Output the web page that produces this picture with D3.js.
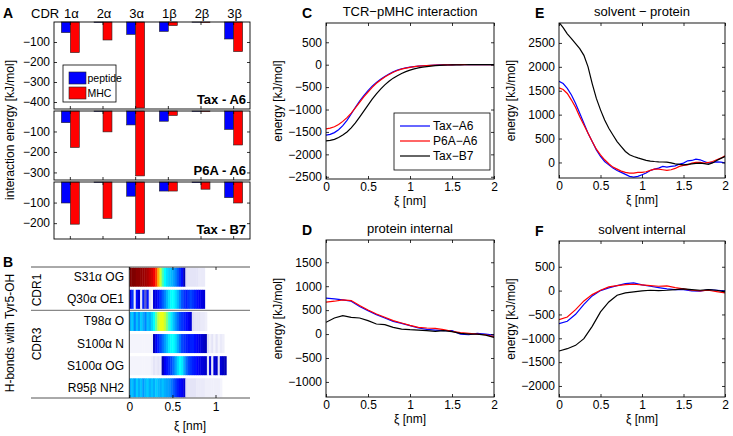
<!DOCTYPE html>
<html>
<head>
<meta charset="utf-8">
<script src="https://cdnjs.cloudflare.com/ajax/libs/d3/7.8.5/d3.min.js"></script>
<style>
body { margin: 0; background: #fff; }
svg { font-family: "Liberation Sans", Arial, Helvetica, sans-serif; }
</style>
</head>
<body>
<div id="fig"></div>
<script>
// ---- panel A: interaction energy per CDR loop (kJ/mol)
var cdrGroups = ["1α", "2α", "3α", "1β", "2β", "3β"];
var taxA6Peptide = [-53, -2, -62, -47, -1, -85];
var taxA6MHC = [-153, -90, -430, -18, -3, -148];
var p6aA6Peptide = [-57, -2, -68, -50, -2, -90];
var p6aA6MHC = [-178, -102, -317, -22, -3, -166];
var taxB7Peptide = [-102, -2, -69, -44, -3, -76];
var taxB7MHC = [-205, -177, -250, -44, -35, -102];

// ---- panel B: H-bond occupancy along xi
var hbSites = ["S31α OG", "Q30α OE1", "T98α O", "S100α N", "S100α OG", "R95β NH2"];
var hbBins = [0, 0.025, 0.05, 0.075, 0.1, 0.125, 0.15, 0.175, 0.2, 0.225, 0.25, 0.275, 0.3, 0.325, 0.35, 0.375, 0.4, 0.425, 0.45, 0.475, 0.5, 0.525, 0.55, 0.575, 0.6, 0.625, 0.65, 0.675, 0.7, 0.725, 0.75, 0.775, 0.8, 0.825, 0.85, 0.875, 0.9, 0.925, 0.95, 0.975, 1, 1.025, 1.05, 1.075, 1.1, 1.125];
var hbS31 = [1, 1, 1, 0.98, 0.98, 0.97, 0.96, 0.95, 0.93, 0.9, 0.87, 0.82, 0.76, 0.68, 0.6, 0.54, 0.5, 0.47, 0.45, 0.43, 0.41, 0.38, 0.34, 0.3, 0.26, 0.16, 0.06, 0.05, 0.05, 0.05, 0.05, 0.05, 0.04, 0.04, 0.04, 0, 0, 0, 0, 0, 0, 0, 0, 0, 0, 0];
var hbQ30 = [0.22, 0.3, 0.04, 0.26, 0.2, 0.05, 0.28, 0.12, 0.27, 0.06, 0.03, 0.2, 0.22, 0.26, 0.3, 0.34, 0.38, 0.43, 0.47, 0.5, 0.5, 0.47, 0.43, 0.38, 0.33, 0.3, 0.28, 0.3, 0.32, 0.3, 0.28, 0.26, 0.24, 0.22, 0.2, 0, 0, 0, 0, 0, 0, 0, 0, 0, 0, 0];
var hbT98 = [0.42, 0.45, 0.38, 0.44, 0.4, 0.45, 0.42, 0.38, 0.44, 0.42, 0.46, 0.5, 0.55, 0.6, 0.62, 0.62, 0.6, 0.56, 0.52, 0.48, 0.44, 0.4, 0.36, 0.32, 0.3, 0.28, 0.26, 0.24, 0.2, 0.06, 0.05, 0.05, 0.05, 0.04, 0.04, 0.03, 0, 0, 0, 0, 0, 0, 0, 0, 0, 0];
var hbS100N = [0.02, 0.02, 0.02, 0.02, 0.02, 0.02, 0.02, 0.02, 0.02, 0.02, 0.03, 0.16, 0.24, 0.28, 0.32, 0.36, 0.4, 0.44, 0.48, 0.5, 0.5, 0.47, 0.42, 0.37, 0.32, 0.3, 0.28, 0.27, 0.28, 0.28, 0.26, 0.24, 0.22, 0.2, 0.18, 0.16, 0.06, 0.03, 0.05, 0.02, 0.05, 0.02, 0.04, 0.03, 0, 0];
var hbS100OG = [0.02, 0.02, 0.02, 0.02, 0.02, 0.02, 0.02, 0.02, 0.02, 0.02, 0.03, 0.05, 0.04, 0.05, 0.04, 0.16, 0.24, 0.27, 0.29, 0.32, 0.36, 0.41, 0.46, 0.5, 0.48, 0.42, 0.36, 0.32, 0.3, 0.28, 0.27, 0.25, 0.23, 0.21, 0.2, 0.18, 0.05, 0.2, 0.04, 0.2, 0.18, 0.05, 0.2, 0.18, 0.16, 0];
var hbR95 = [0.42, 0.44, 0.4, 0.45, 0.42, 0.44, 0.4, 0.43, 0.45, 0.42, 0.44, 0.42, 0.45, 0.43, 0.42, 0.44, 0.42, 0.41, 0.4, 0.37, 0.34, 0.31, 0.28, 0.26, 0.24, 0.2, 0.06, 0.05, 0.05, 0.05, 0.05, 0.04, 0.04, 0.04, 0.04, 0.03, 0.03, 0.03, 0.03, 0.03, 0.03, 0.03, 0.02, 0, 0, 0];

// ---- panels C-F: energies along xi (kJ/mol)
var xiFine = [0, 0.05, 0.1, 0.15, 0.2, 0.25, 0.3, 0.35, 0.4, 0.45, 0.5, 0.55, 0.6, 0.65, 0.7, 0.75, 0.8, 0.85, 0.9, 0.95, 1, 1.05, 1.1, 1.15, 1.2, 1.25, 1.3, 1.35, 1.4, 1.45, 1.5, 1.55, 1.6, 1.65, 1.7, 1.75, 1.8, 1.85, 1.9, 1.95, 2];
var xiCoarse = [0, 0.1, 0.2, 0.3, 0.4, 0.5, 0.6, 0.7, 0.8, 0.9, 1, 1.1, 1.2, 1.3, 1.4, 1.5, 1.6, 1.7, 1.8, 1.9, 2];
var seriesNames = ["Tax−A6", "P6A−A6", "Tax−B7"];
var seriesColors = ["#0000ff", "#ff0000", "#000000"];

var tcrTaxA6 = [-1570, -1555, -1515, -1450, -1360, -1240, -1100, -950, -810, -690, -580, -480, -395, -325, -265, -210, -160, -120, -90, -70, -55, -42, -32, -24, -18, -13, -9, -6, -4, -3, -2, -1, 0, 0, 0, 0, 0, 0, 0, 0, 0];
var tcrP6AA6 = [-1430, -1415, -1385, -1335, -1265, -1180, -1080, -965, -840, -720, -610, -505, -415, -340, -275, -220, -170, -130, -98, -75, -58, -44, -33, -25, -19, -14, -10, -7, -5, -3, -2, -1, 0, 0, 0, 0, 0, 0, 0, 0, 0];
var tcrTaxB7 = [-1700, -1690, -1665, -1625, -1570, -1500, -1410, -1300, -1170, -1035, -900, -770, -650, -545, -450, -370, -300, -245, -195, -155, -122, -95, -73, -56, -42, -31, -23, -16, -11, -7, -5, -3, -2, -1, 0, 0, 0, 0, 0, 0, 0];

var solProtTaxA6 = [1700, 1650, 1550, 1410, 1235, 1030, 820, 610, 437, 264, 125, 20, -50, -118, -167, -208, -250, -290, -305, -290, -257, -222, -167, -139, -118, -83, -97, -83, -70, -35, -14, 35, 42, 70, 56, 20, -14, 0, 14, 7, -7];
var solProtP6AA6 = [1560, 1527, 1443, 1305, 1152, 958, 784, 610, 437, 278, 160, 56, -28, -97, -139, -180, -208, -222, -222, -208, -208, -194, -167, -139, -139, -153, -167, -153, -125, -83, -62, -50, -14, 0, 0, -14, 0, 20, 56, 90, 140];
var solProtTaxB7 = [2930, 2820, 2690, 2590, 2485, 2380, 2240, 2000, 1650, 1340, 1100, 890, 715, 575, 437, 333, 230, 160, 125, 95, 70, 45, 28, 20, 14, 10, 7, -10, -28, -40, -50, -40, -30, -20, -14, -25, -40, -10, 40, 85, 125];

var protIntTaxA6 = [750, 735, 714, 686, 574, 490, 406, 336, 266, 224, 175, 126, 98, 84, 70, 70, 0, -14, 14, 0, -21];
var protIntP6AA6 = [665, 686, 714, 700, 595, 504, 420, 350, 280, 231, 182, 140, 126, 119, 91, 56, 28, 14, 0, -14, -56];
var protIntTaxB7 = [245, 336, 385, 350, 336, 280, 210, 196, 140, 105, 91, 84, 70, 56, 70, 49, 14, 0, 0, -21, -70];

var solIntTaxA6 = [-693, -644, -497, -287, -112, 0, 56, 105, 147, 161, 119, 91, 63, 35, 21, 21, -7, -14, 21, 7, -7];
var solIntP6AA6 = [-609, -553, -399, -217, -84, 7, 77, 105, 126, 133, 119, 105, 91, 98, 63, 35, 7, -7, 7, -21, -49];
var solIntTaxB7 = [-1267, -1218, -1148, -1008, -749, -448, -238, -98, -49, -28, -7, 7, 0, 7, 21, 35, 21, 7, 21, 7, -28];

var W = 733, H = 436;
var svg = d3.select("#fig").append("svg")
    .attr("width", W)
    .attr("height", H);

var fmt = d3.format("~g");

function panelLetter(txt, x, y) {
    svg.append("text")
        .attr("x", x).attr("y", y)
        .attr("font-size", 14).attr("font-weight", "bold")
        .text(txt);
}

function styleAxis(g) {
    g.select(".domain").remove();
    g.selectAll(".tick line").attr("stroke", "#000").attr("stroke-width", 0.8);
    g.selectAll(".tick text").attr("font-size", 12).attr("fill", "#000")
        .attr("font-family", "Liberation Sans, Arial, sans-serif");
}

// ================= panel A =================
var xA = d3.scaleBand().domain(cdrGroups).range([54, 250]);
var xSub = d3.scaleBand().domain(["peptide", "MHC"]).range([0, xA.bandwidth()])
    .paddingInner(0).paddingOuter(0.82);

var subplots = [
    {label: "Tax - A6", pep: taxA6Peptide, mhc: taxA6MHC, top: 22, bottom: 109, ymin: -435, ticks: [-100, -200, -300, -400]},
    {label: "P6A - A6", pep: p6aA6Peptide, mhc: p6aA6MHC, top: 111, bottom: 180, ymin: -337, ticks: [-100, -200, -300]},
    {label: "Tax - B7", pep: taxB7Peptide, mhc: taxB7MHC, top: 182, bottom: 239, ymin: -277, ticks: [-100, -200]}
];

subplots.forEach(function(sp, k) {
    var y = d3.scaleLinear().domain([sp.ymin, 0]).range([sp.bottom, sp.top]);
    var g = svg.append("g");

    cdrGroups.forEach(function(c, i) {
        [["peptide", sp.pep[i], "#0000ff"], ["MHC", sp.mhc[i], "#ff0000"]].forEach(function(b) {
            g.append("rect")
                .attr("x", xA(c) + xSub(b[0]))
                .attr("y", y(0))
                .attr("width", xSub.bandwidth())
                .attr("height", y(b[1]) - y(0))
                .attr("fill", b[2])
                .attr("stroke", "#222")
                .attr("stroke-width", 0.6);
        });
    });

    var ax = g.append("g").attr("transform", "translate(54,0)")
        .call(d3.axisLeft(y).tickValues(sp.ticks).tickSize(-3).tickPadding(4).tickFormat(fmt));
    styleAxis(ax);
    var axr = g.append("g").attr("transform", "translate(250,0)")
        .call(d3.axisRight(y).tickValues(sp.ticks).tickSize(-3).tickFormat(""));
    styleAxis(axr);
    var xTicks = d3.axisBottom(xA).tickSize(-3).tickFormat("");
    var axb = g.append("g").attr("transform", "translate(0," + sp.bottom + ")").call(xTicks);
    styleAxis(axb);
    var axt = g.append("g").attr("transform", "translate(0," + sp.top + ")")
        .call(d3.axisTop(xA).tickSize(-3).tickFormat(""));
    styleAxis(axt);

    g.append("rect")
        .attr("x", 54).attr("y", sp.top)
        .attr("width", 196).attr("height", sp.bottom - sp.top)
        .attr("fill", "none").attr("stroke", "#000").attr("stroke-width", 0.9);

    g.append("text")
        .attr("x", 246).attr("y", sp.bottom - 5)
        .attr("text-anchor", "end")
        .attr("font-size", 13).attr("font-weight", "bold")
        .text(sp.label);
});

// header row of CDR names
svg.append("text").attr("x", 31).attr("y", 18).attr("font-size", 13).text("CDR");
svg.selectAll(".cdrlab").data(cdrGroups).enter().append("text")
    .attr("class", "cdrlab")
    .attr("x", function(d) { return xA(d) + xA.bandwidth() / 2 + 1; })
    .attr("y", 18)
    .attr("text-anchor", "middle")
    .attr("font-size", 13)
    .text(function(d) { return d; });

// legend of panel A
var legA = svg.append("g");
legA.append("rect").attr("x", 63).attr("y", 65).attr("width", 53).attr("height", 37)
    .attr("fill", "#fff").attr("stroke", "#000").attr("stroke-width", 0.8);
[["peptide", "#0000ff", 72], ["MHC", "#ff0000", 87]].forEach(function(l) {
    legA.append("rect").attr("x", 69).attr("y", l[2]).attr("width", 17).attr("height", 12)
        .attr("fill", l[1]).attr("stroke", "#222").attr("stroke-width", 0.6);
    legA.append("text").attr("x", 87.5).attr("y", l[2] + 10).attr("font-size", 10.5).text(l[0]);
});

svg.append("text")
    .attr("transform", "translate(14,130) rotate(-90)")
    .attr("text-anchor", "middle").attr("font-size", 12)
    .text("interaction energy [kJ/mol]");

panelLetter("A", 3, 18);

// ================= panel B =================
var xB = d3.scaleLinear().domain([0, 1.4]).range([129.3, 250]);
var yB = d3.scaleBand().domain(hbSites).range([267, 398]).paddingInner(0.14).paddingOuter(0.03);
var hbColor = d3.scaleLinear()
    .domain([0, 0.08, 0.15, 0.25, 0.5, 0.63, 0.8, 1])
    .range(["#ffffff", "#d4d4f2", "#0000b0", "#0000ff", "#00ffff", "#ffff00", "#ff0000", "#800000"])
    .clamp(true);
var hbRows = [hbS31, hbQ30, hbT98, hbS100N, hbS100OG, hbR95];
var binW = hbBins[1] - hbBins[0];

var heat = svg.append("g");
hbRows.forEach(function(row, r) {
    heat.selectAll(".c" + r)
        .data(row.map(function(v, i) { return {x: hbBins[i], v: v}; }).filter(function(d) { return d.v > 0; }))
        .enter().append("rect")
        .attr("x", function(d) { return xB(d.x); })
        .attr("y", yB(hbSites[r]))
        .attr("width", xB(binW) - xB(0) + 0.4)
        .attr("height", yB.bandwidth())
        .attr("fill", function(d) { return hbColor(d.v); });
});

heat.selectAll(".site").data(hbSites).enter().append("text")
    .attr("x", 124)
    .attr("y", function(d) { return yB(d) + yB.bandwidth() / 2 + 4; })
    .attr("text-anchor", "end").attr("font-size", 12)
    .text(function(d) { return d; });

// frame lines
var sepY = (yB(hbSites[1]) + yB.bandwidth() + yB(hbSites[2])) / 2;
heat.append("line").attr("x1", 31).attr("x2", 250).attr("y1", 267).attr("y2", 267).attr("stroke", "#555").attr("stroke-width", 1);
heat.append("line").attr("x1", 31).attr("x2", 250).attr("y1", sepY).attr("y2", sepY).attr("stroke", "#888").attr("stroke-width", 1.2);
heat.append("line").attr("x1", 31).attr("x2", 250).attr("y1", 398).attr("y2", 398).attr("stroke", "#555").attr("stroke-width", 1);
heat.append("line").attr("x1", 129.3).attr("x2", 129.3).attr("y1", 267).attr("y2", 398).attr("stroke", "#333").attr("stroke-width", 1);

var axB = heat.append("g").attr("transform", "translate(0,398)")
    .call(d3.axisBottom(xB).tickValues([0, 0.5, 1]).tickSize(-3).tickPadding(4).tickFormat(fmt));
styleAxis(axB);
var axBt = heat.append("g").attr("transform", "translate(0,267)")
    .call(d3.axisTop(xB).tickValues([0, 0.5, 1]).tickSize(-3).tickFormat(""));
styleAxis(axBt);

heat.append("text").attr("x", 190).attr("y", 430).attr("text-anchor", "middle").attr("font-size", 12).text("ξ [nm]");

svg.append("text")
    .attr("transform", "translate(41,290) rotate(-90)")
    .attr("text-anchor", "middle").attr("font-size", 12).text("CDR1");
svg.append("text")
    .attr("transform", "translate(41,344) rotate(-90)")
    .attr("text-anchor", "middle").attr("font-size", 12).text("CDR3");
svg.append("text")
    .attr("transform", "translate(14,333) rotate(-90)")
    .attr("text-anchor", "middle").attr("font-size", 12).text("H-bonds with Tyr5-OH");

panelLetter("B", 3, 267);

// ================= panels C-F =================
function linePanel(cfg) {
    var x = d3.scaleLinear().domain([0, 2]).range([cfg.x0, cfg.x1]);
    var y = d3.scaleLinear().domain(cfg.yDomain).range([cfg.y1, cfg.y0]);
    var g = svg.append("g");
    var clipId = "clip" + cfg.letter;

    g.append("clipPath").attr("id", clipId).append("rect")
        .attr("x", cfg.x0).attr("y", cfg.y0)
        .attr("width", cfg.x1 - cfg.x0).attr("height", cfg.y1 - cfg.y0);

    var line = d3.line()
        .x(function(d) { return x(d[0]); })
        .y(function(d) { return y(d[1]); });

    cfg.series.forEach(function(s, i) {
        g.append("path")
            .datum(s.map(function(v, j) { return [cfg.xi[j], v]; }))
            .attr("clip-path", "url(#" + clipId + ")")
            .attr("fill", "none")
            .attr("stroke", seriesColors[i])
            .attr("stroke-width", 1.2)
            .attr("d", line);
    });

    var xt = [0, 0.5, 1, 1.5, 2];
    styleAxis(g.append("g").attr("transform", "translate(0," + cfg.y1 + ")")
        .call(d3.axisBottom(x).tickValues(xt).tickSize(-3).tickPadding(3).tickFormat(fmt)));
    styleAxis(g.append("g").attr("transform", "translate(0," + cfg.y0 + ")")
        .call(d3.axisTop(x).tickValues(xt).tickSize(-3).tickFormat("")));
    styleAxis(g.append("g").attr("transform", "translate(" + cfg.x0 + ",0)")
        .call(d3.axisLeft(y).tickValues(cfg.yTicks).tickSize(-3).tickPadding(4).tickFormat(fmt)));
    styleAxis(g.append("g").attr("transform", "translate(" + cfg.x1 + ",0)")
        .call(d3.axisRight(y).tickValues(cfg.yTicks).tickSize(-3).tickFormat("")));

    g.append("rect")
        .attr("x", cfg.x0).attr("y", cfg.y0)
        .attr("width", cfg.x1 - cfg.x0).attr("height", cfg.y1 - cfg.y0)
        .attr("fill", "none").attr("stroke", "#000").attr("stroke-width", 0.9);

    var cx = (cfg.x0 + cfg.x1) / 2;
    g.append("text").attr("x", cx).attr("y", cfg.y0 - 7)
        .attr("text-anchor", "middle").attr("font-size", 13).text(cfg.title);
    g.append("text").attr("x", cx).attr("y", cfg.y1 + 26)
        .attr("text-anchor", "middle").attr("font-size", 12).text("ξ [nm]");
    g.append("text")
        .attr("transform", "translate(" + (cfg.x0 - 44) + "," + ((cfg.y0 + cfg.y1) / 2) + ") rotate(-90)")
        .attr("text-anchor", "middle").attr("font-size", 12).text("energy [kJ/mol]");

    panelLetter(cfg.letter, cfg.x0 - 24, cfg.y0 - 5);
    return {x: x, y: y, g: g};
}

var pC = linePanel({
    letter: "C", title: "TCR−pMHC interaction",
    x0: 326, x1: 494, y0: 23, y1: 179,
    yDomain: [-2550, 930], yTicks: [500, 0, -500, -1000, -1500, -2000, -2500],
    xi: xiFine, series: [tcrTaxA6, tcrP6AA6, tcrTaxB7]
});

linePanel({
    letter: "D", title: "protein internal",
    x0: 326, x1: 494, y0: 240, y1: 397,
    yDomain: [-1315, 1965], yTicks: [1500, 1000, 500, 0, -500, -1000],
    xi: xiCoarse, series: [protIntTaxA6, protIntP6AA6, protIntTaxB7]
});

linePanel({
    letter: "E", title: "solvent − protein",
    x0: 559, x1: 725, y0: 23, y1: 178,
    yDomain: [-325, 2917], yTicks: [2500, 2000, 1500, 1000, 500, 0],
    xi: xiFine, series: [solProtTaxA6, solProtP6AA6, solProtTaxB7]
});

linePanel({
    letter: "F", title: "solvent internal",
    x0: 559, x1: 725, y0: 241, y1: 397,
    yDomain: [-2231, 1040], yTicks: [500, 0, -500, -1000, -1500, -2000],
    xi: xiCoarse, series: [solIntTaxA6, solIntP6AA6, solIntTaxB7]
});

// legend of panel C
var legC = pC.g.append("g");
legC.append("rect").attr("x", 394).attr("y", 113).attr("width", 96).attr("height", 57)
    .attr("fill", "#fff").attr("stroke", "#000").attr("stroke-width", 0.8);
seriesNames.forEach(function(n, i) {
    var yy = 126 + i * 15;
    legC.append("line").attr("x1", 400).attr("x2", 430).attr("y1", yy).attr("y2", yy)
        .attr("stroke", seriesColors[i]).attr("stroke-width", 1.2);
    legC.append("text").attr("x", 433).attr("y", yy + 4).attr("font-size", 12).text(n);
});
</script>
</body>
</html>
